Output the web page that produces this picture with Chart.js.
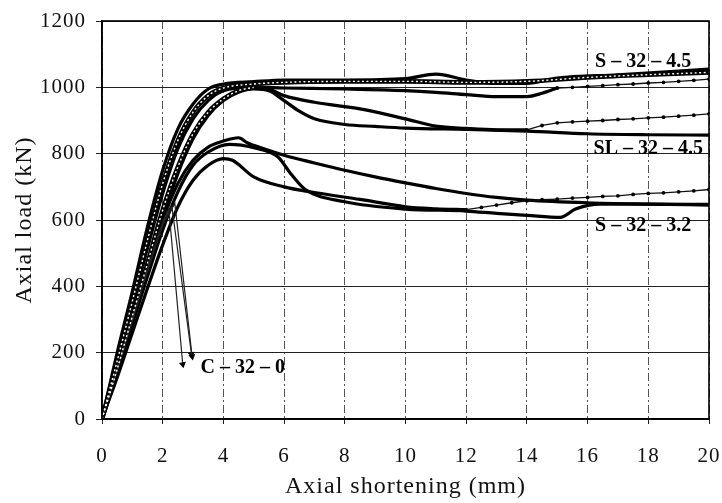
<!DOCTYPE html>
<html>
<head>
<meta charset="utf-8">
<script src="https://cdn.jsdelivr.net/npm/chart.js@4.4.1/dist/chart.umd.min.js"></script>
<style>
    html, body { margin: 0; padding: 0; background: #fff; }
    canvas { display: block; }
</style>
</head>
<body>
<canvas id="chart" width="722" height="503"></canvas>
<script>
/**
 * Axial load vs axial shortening
 * values
 */

// axis ticks
const xTicks = [0, 2, 4, 6, 8, 10, 12, 14, 16, 18, 20];
const yTicks = [0, 200, 400, 600, 800, 1000, 1200];

// S-32-4.5 group  [shortening mm, load kN]
const s45a = [[0, 0], [0.5, 200], [1, 385], [1.5, 580], [2, 750], [2.5, 875], [3, 950], [3.5, 995], [4, 1010],
    [5, 1017], [6, 1022], [8, 1022], [10, 1026], [11, 1040], [12, 1022], [13, 1012], [14, 1012],
    [15, 1028], [17, 1038], [20, 1055]];
const s45b = [[0, 0], [0.5, 175], [1, 355], [1.5, 540], [2, 710], [2.5, 840], [3, 925], [3.5, 975], [4, 998],
    [5, 1010], [6, 1015], [8, 1018], [10, 1018], [12, 1015], [14, 1018], [16, 1030], [18, 1038], [20, 1045]];
const s45c = [[0, 0], [0.5, 165], [1, 340], [1.5, 515], [2, 680], [2.5, 815], [3, 905], [3.5, 960], [4, 990],
    [5, 1000], [6, 998], [8, 995], [10, 990], [11, 985], [12, 978], [13, 972], [14, 972], [14.5, 982], [15, 998]];
const s45cTail = [[15, 998], [15.5, 1000], [16, 1003], [16.5, 1005], [17, 1008], [17.5, 1010], [18, 1013],
    [18.5, 1015], [19, 1018], [19.5, 1021], [20, 1025]];

// SL-32-4.5 group
const sla = [[0, 0], [0.5, 150], [1, 310], [1.5, 470], [2, 630], [2.5, 760], [3, 860], [3.5, 925], [4, 965],
    [4.5, 990], [5, 1000], [5.5, 995], [6, 975], [7, 955], [8.5, 935], [10, 905], [11, 883], [12, 876],
    [13, 872], [14, 872]];
const slaTail = [[14, 872], [14.5, 885], [15, 893], [15.5, 896], [16, 898], [16.5, 900], [17, 903],
    [17.5, 905], [18, 908], [18.5, 910], [19, 913], [19.5, 916], [20, 920]];
const slb = [[0, 0], [0.5, 140], [1, 295], [1.5, 450], [2, 605], [2.5, 740], [3, 845], [3.5, 915], [4, 960],
    [4.5, 985], [5, 995], [5.5, 990], [6, 960], [6.5, 928], [7, 905], [8, 888], [9, 882], [10, 877],
    [12, 873], [14, 868], [16, 860], [18, 857], [20, 856]];

// S-32-3.2 group
const l1 = [[0, 0], [0.5, 150], [1, 305], [1.5, 460], [2, 600], [2.5, 710], [3, 780], [3.5, 820], [4, 838],
    [4.5, 848], [4.8, 832], [5, 825], [6, 795], [7, 772], [8, 750], [9, 730], [10, 712], [11, 695],
    [12, 680], [13, 668], [14, 660], [16, 652], [18, 648], [20, 645]];
const l2 = [[0, 0], [0.5, 140], [1, 285], [1.5, 430], [2, 570], [2.5, 685], [3, 765], [3.5, 805], [4.2, 828],
    [5, 818], [5.8, 790], [6.2, 742], [6.7, 692], [8, 655], [10, 633], [12, 627], [13, 620], [14, 614],
    [15.1, 608], [15.6, 633], [16.4, 648], [18, 648], [20, 647]];
const l3 = [[0, 0], [0.5, 125], [1, 260], [1.5, 395], [2, 525], [2.5, 640], [3, 720], [3.5, 765], [4, 785],
    [4.3, 780], [5, 730], [6, 700], [7, 683], [8.5, 662], [10, 640], [11, 634], [12, 631]];
const l3Tail = [[12, 631], [12.5, 638], [13, 645], [13.5, 652], [14, 658], [14.5, 661], [15, 663],
    [15.5, 666], [16, 668], [16.5, 671], [17, 673], [17.5, 677], [18, 680], [18.5, 682], [19, 685],
    [19.5, 688], [20, 692]];

// C-32-0 group (brittle drop)
const ca = [[0, 0], [0.5, 150], [1, 305], [1.5, 455], [2, 595], [2.2, 635], [2.66, 165]];
const cb = [[0, 0], [0.5, 145], [1, 295], [1.5, 445], [2, 585], [2.4, 650], [2.97, 188]];
const cc = [[0, 0], [0.5, 148], [1, 300], [1.5, 450], [2, 590], [2.3, 642], [2.95, 195]];

// curve labels (data coordinates of the text centre)
const curveLabels = [
    { text: 'S \u2013 32 \u2013 4.5', x: 17.83, y: 1077 },
    { text: 'SL \u2013 32 \u2013 4.5', x: 18.0, y: 816 },
    { text: 'S \u2013 32 \u2013 3.2', x: 17.83, y: 583 },
    { text: 'C \u2013 32 \u2013 0', x: 4.64, y: 155 }
];

const FONT = "'Liberation Serif', 'Times New Roman', serif";

const toPoints = arr => arr.map(([x, y]) => ({ x, y }));

// thick solid test curve
function solid(arr) {
    return {
        data: toPoints(arr),
        borderColor: '#000',
        borderWidth: 3.2,
        pointRadius: 0,
        cubicInterpolationMode: 'monotone',
        order: 2
    };
}

// thick curve drawn with hollow markers: black base + white dashed core
function hollow(arr) {
    return [
        { data: toPoints(arr), borderColor: '#000', borderWidth: 4.6, pointRadius: 0,
          cubicInterpolationMode: 'monotone', order: 1 },
        { data: toPoints(arr), borderColor: '#fff', borderWidth: 1.4, borderDash: [2, 2.5], pointRadius: 0,
          cubicInterpolationMode: 'monotone', order: -1 }
    ];
}

// thin line with small dot markers
function dotted(arr) {
    return {
        data: toPoints(arr),
        borderColor: '#111',
        borderWidth: 1.3,
        pointRadius: 1.9,
        pointBackgroundColor: '#000',
        pointBorderWidth: 0,
        order: 0
    };
}

// thin line of the C specimens, with an arrowhead at the last point
function thin(arr) {
    return {
        data: toPoints(arr),
        borderColor: '#222',
        borderWidth: 1.2,
        tension: 0,
        pointStyle: 'triangle',
        rotation: 170,
        pointBackgroundColor: '#000',
        pointBorderWidth: 0,
        pointRadius: ctx => ctx.dataIndex === arr.length - 1 ? 4 : 0,
        order: 0
    };
}

const datasets = [
    solid(s45a),
    ...hollow(s45b),
    solid(s45c),
    dotted(s45cTail),
    ...hollow(sla.filter(p => p[0] <= 5)),
    solid(sla),
    dotted(slaTail),
    solid(slb),
    solid(l1),
    solid(l2),
    solid(l3),
    dotted(l3Tail),
    thin(ca),
    thin(cb),
    thin(cc)
];

// letter spacing for axis text
const spacingPlugin = {
    id: 'spacing',
    beforeDraw(chart) { chart.ctx.letterSpacing = '1px'; },
    afterDraw(chart) { chart.ctx.letterSpacing = '0px'; }
};

// solid frame + curve labels
const framePlugin = {
    id: 'frame',
    afterDatasetsDraw(chart) {
        const { ctx, chartArea: a, scales } = chart;
        ctx.save();
        ctx.letterSpacing = '0px';
        ctx.strokeStyle = '#000';
        ctx.lineWidth = 1.6;
        ctx.strokeRect(a.left, a.top, a.right - a.left, a.bottom - a.top);

        ctx.fillStyle = '#000';
        ctx.font = 'bold 20px ' + FONT;
        ctx.textAlign = 'center';
        ctx.textBaseline = 'middle';
        curveLabels.forEach(l => {
            ctx.fillText(l.text, scales.x.getPixelForValue(l.x), scales.y.getPixelForValue(l.y));
        });
        ctx.restore();
    }
};

// fixed axis box sizes, no extra label padding
function fixBox(size) {
    return s => {
        if (s.isHorizontal()) s.height = size; else s.width = size;
        s.paddingLeft = 0;
        s.paddingRight = 0;
        s.paddingTop = 0;
        s.paddingBottom = 0;
    };
}

new Chart(document.getElementById('chart').getContext('2d'), {
    type: 'line',
    data: { datasets },
    options: {
        responsive: false,
        animation: false,
        devicePixelRatio: 1,
        layout: { padding: { top: 21, right: 13, left: 0, bottom: 0 } },
        plugins: {
            legend: { display: false },
            tooltip: { enabled: false }
        },
        scales: {
            x: {
                type: 'linear',
                min: 0,
                max: 20,
                afterBuildTicks: s => { s.ticks = xTicks.map(v => ({ value: v })); },
                afterFit: fixBox(84),
                grid: { color: '#555', lineWidth: 1, tickLength: 5, tickColor: '#222' },
                border: { color: '#000', width: 1.5, dash: [8, 3, 2, 3] },
                ticks: {
                    color: '#111',
                    padding: 20,
                    maxRotation: 0,
                    callback: v => String(v),
                    font: { family: FONT, size: 21 }
                },
                title: {
                    display: true,
                    text: 'Axial shortening (mm)',
                    color: '#111',
                    padding: { top: 0, bottom: 2 },
                    font: { family: FONT, size: 24 }
                }
            },
            y: {
                type: 'linear',
                min: 0,
                max: 1200,
                afterBuildTicks: s => { s.ticks = yTicks.map(v => ({ value: v })); },
                afterFit: fixBox(102),
                grid: { color: '#222', lineWidth: 1, tickLength: 6, tickColor: '#222' },
                border: { color: '#000', width: 1.5 },
                ticks: {
                    color: '#111',
                    padding: 10,
                    callback: v => String(v),
                    font: { family: FONT, size: 21 }
                },
                title: {
                    display: true,
                    text: 'Axial load (kN)',
                    color: '#111',
                    padding: { top: 10, bottom: 0 },
                    font: { family: FONT, size: 24 }
                }
            }
        }
    },
    plugins: [spacingPlugin, framePlugin]
});
</script>
</body>
</html>
